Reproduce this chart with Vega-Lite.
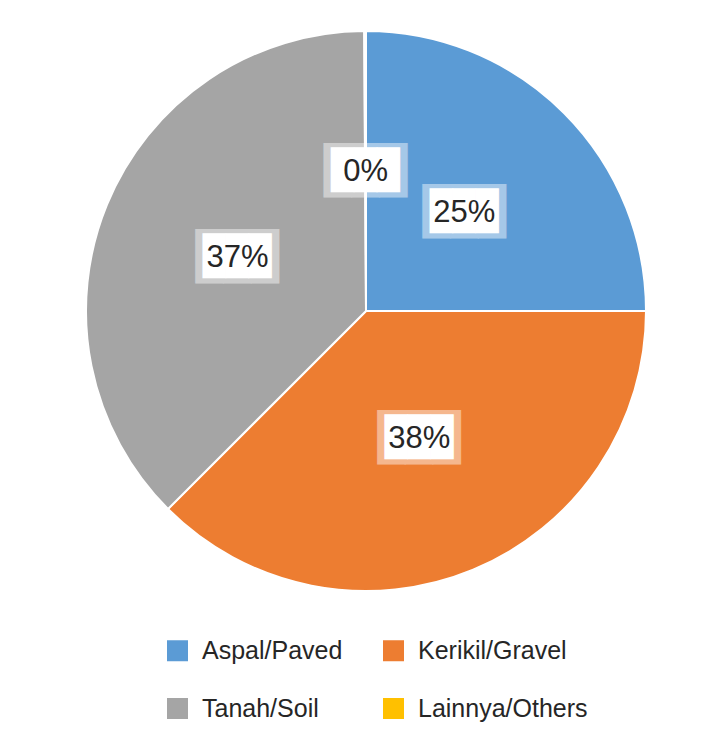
{
  "$schema": "https://vega.github.io/schema/vega-lite/v6.json",
  "autosize": {"type": "none"},
  "width": 706,
  "height": 622,
  "padding": {"left": 13, "top": 0, "right": 0, "bottom": 122},
  "background": "white",
  "config": {"view": {"stroke": null}},
  "data": {
    "values": [
      {"kategori": "Aspal/Paved", "nilai": 25.0, "label": "25%", "urut": 1},
      {"kategori": "Kerikil/Gravel", "nilai": 37.5, "label": "38%", "urut": 2},
      {"kategori": "Tanah/Soil", "nilai": 37.4, "label": "37%", "urut": 3},
      {"kategori": "Lainnya/Others", "nilai": 0.1, "label": "0%", "urut": 4}
    ]
  },
  "encoding": {
    "theta": {"field": "nilai", "type": "quantitative", "stack": true},
    "order": {"field": "urut", "type": "quantitative"}
  },
  "layer": [
    {
      "mark": {"type": "arc", "outerRadius": 280, "stroke": "white", "strokeWidth": 2},
      "encoding": {
        "color": {
          "field": "kategori",
          "type": "nominal",
          "scale": {
            "domain": ["Aspal/Paved", "Kerikil/Gravel", "Tanah/Soil", "Lainnya/Others"],
            "range": ["#5B9BD5", "#ED7D31", "#A5A5A5", "#FFC000"]
          },
          "legend": {
            "orient": "none",
            "legendX": 152,
            "legendY": 638,
            "direction": "horizontal",
            "columns": 2,
            "columnPadding": 38,
            "rowPadding": 32,
            "padding": 0,
            "title": null,
            "symbolType": "square",
            "symbolSize": 441,
            "symbolStrokeWidth": 0,
            "labelFont": "Liberation Sans",
            "labelFontSize": 25,
            "labelColor": "#262626",
            "labelOffset": 12,
            "labelLimit": 400
          }
        }
      }
    },
    {
      "mark": {"type": "text", "radius": 139, "text": "███", "font": "DejaVu Sans Mono", "fontSize": 46, "color": "white", "opacity": 0.45}
    },
    {
      "mark": {"type": "text", "radius": 139, "text": "███", "font": "DejaVu Sans Mono", "fontSize": 38, "color": "white"}
    },
    {
      "mark": {"type": "text", "radius": 139, "font": "Liberation Sans", "fontSize": 31, "color": "#262626"},
      "encoding": {"text": {"field": "label", "type": "nominal"}}
    }
  ]
}
